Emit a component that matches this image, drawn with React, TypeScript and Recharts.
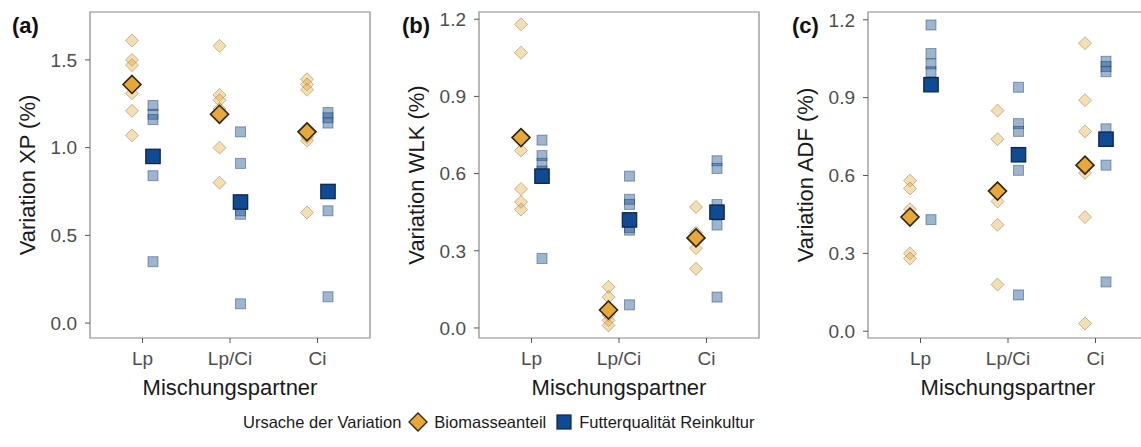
import { ScatterChart, Scatter, XAxis, YAxis, ReferenceArea } from "recharts";

const categories = ["Lp", "Lp/Ci", "Ci"];

// (a) Variation XP
const xpBiomasse = [
  [1.61, 1.5, 1.47, 1.31, 1.21, 1.07],
  [1.58, 1.3, 1.27, 1.22, 1.0, 0.8],
  [1.39, 1.36, 1.33, 1.06, 1.04, 0.63],
];
const xpFutter = [
  [1.24, 1.19, 1.16, 0.84, 0.35],
  [1.09, 0.91, 0.64, 0.62, 0.11],
  [1.2, 1.17, 1.14, 0.64, 0.15],
];
const xpBiomasseMean = [1.36, 1.19, 1.09];
const xpFutterMean = [0.95, 0.69, 0.75];

// (b) Variation WLK
const wlkBiomasse = [
  [1.18, 1.07, 0.69, 0.54, 0.49, 0.46],
  [0.16, 0.12, 0.05, 0.03, 0.01],
  [0.47, 0.37, 0.34, 0.31, 0.23],
];
const wlkFutter = [
  [0.73, 0.67, 0.64, 0.61, 0.27],
  [0.59, 0.5, 0.48, 0.39, 0.38, 0.09],
  [0.65, 0.62, 0.48, 0.4, 0.12],
];
const wlkBiomasseMean = [0.74, 0.07, 0.35];
const wlkFutterMean = [0.59, 0.42, 0.45];

// (c) Variation ADF
const adfBiomasse = [
  [0.58, 0.55, 0.47, 0.3, 0.28],
  [0.85, 0.74, 0.5, 0.41, 0.18],
  [1.11, 0.89, 0.77, 0.61, 0.44, 0.03],
];
const adfFutter = [
  [1.18, 1.07, 1.03, 1.0, 0.43],
  [0.94, 0.8, 0.77, 0.62, 0.14],
  [1.04, 1.02, 1.0, 0.78, 0.64, 0.19],
];
const adfBiomasseMean = [0.44, 0.54, 0.64];
const adfFutterMean = [0.95, 0.68, 0.74];

const DODGE = 0.12;
const FONT = "'Liberation Sans', Arial, sans-serif";

const points = (groups: number[][], shift: number) =>
  groups.flatMap((vals, i) => vals.map((y) => ({ x: i + 1 + shift, y })));
const means = (vals: number[], shift: number) =>
  vals.map((y, i) => ({ x: i + 1 + shift, y }));

const diamond = (r: number, fill: string, stroke: string, sw: number, op: number) => (p: any) => (
  <path
    d={`M${p.cx},${p.cy - r}L${p.cx + r},${p.cy}L${p.cx},${p.cy + r}L${p.cx - r},${p.cy}Z`}
    fill={fill}
    fillOpacity={op}
    stroke={stroke}
    strokeOpacity={op}
    strokeWidth={sw}
  />
);
const square = (h: number, fill: string, stroke: string, sw: number, op: number) => (p: any) => (
  <rect
    x={p.cx - h}
    y={p.cy - h}
    width={2 * h}
    height={2 * h}
    fill={fill}
    fillOpacity={op}
    stroke={stroke}
    strokeOpacity={op}
    strokeWidth={sw}
  />
);

type PanelProps = {
  left: number;
  title: string;
  domain: [number, number];
  ticks: number[];
  bio: number[][];
  fut: number[][];
  bioMean: number[];
  futMean: number[];
};

const Panel = ({ left, title, domain, ticks, bio, fut, bioMean, futMean }: PanelProps) => (
  <div style={{ position: "absolute", left, top: 0 }}>
    <ScatterChart width={380} height={400} margin={{ top: 12, right: 11, bottom: 0, left: 0 }}>
      <XAxis
        type="number"
        dataKey="x"
        domain={[0.4, 3.6]}
        ticks={[1, 2, 3]}
        tickFormatter={(v) => categories[v - 1]}
        height={62}
        axisLine={false}
        tickSize={5}
        tickMargin={9}
        tickLine={{ stroke: "#555" }}
        tick={{ fill: "#4d4d4d", fontSize: 19 }}
        label={{ value: "Mischungspartner", position: "insideBottom", offset: 5, style: { fontSize: 22, fill: "#1a1a1a" } }}
      />
      <YAxis
        type="number"
        dataKey="y"
        domain={domain}
        ticks={ticks}
        allowDataOverflow
        width={89}
        axisLine={false}
        tickSize={5}
        tickMargin={8}
        tickLine={{ stroke: "#555" }}
        tick={{ fill: "#4d4d4d", fontSize: 19 }}
        tickFormatter={(v) => v.toFixed(1)}
        label={{
          value: title,
          angle: -90,
          position: "insideLeft",
          offset: 26,
          style: { textAnchor: "middle", fontSize: 22, fill: "#1a1a1a" },
        }}
      />
      <ReferenceArea x1={0.4} x2={3.6} y1={domain[0]} y2={domain[1]} fill="none" stroke="#8a8a8a" strokeWidth={1.2} />
      <Scatter data={points(bio, -DODGE)} isAnimationActive={false} shape={diamond(6.5, "#E3A73A", "#6b5520", 1, 0.38)} />
      <Scatter data={points(fut, DODGE)} isAnimationActive={false} shape={square(5, "#174E8F", "#0d3060", 1, 0.42)} />
      <Scatter data={means(bioMean, -DODGE)} isAnimationActive={false} shape={diamond(9, "#E6A83A", "#2e2410", 1.6, 1)} />
      <Scatter data={means(futMean, DODGE)} isAnimationActive={false} shape={square(7.2, "#0F4A92", "#0a2248", 1.2, 1)} />
    </ScatterChart>
  </div>
);

const letter = (text: string, left: number) => (
  <div style={{ position: "absolute", left, top: 14, fontSize: 22, fontWeight: 700, lineHeight: "24px", color: "#111" }}>
    {text}
  </div>
);

export default function App() {
  return (
    <div
      style={{
        position: "absolute",
        left: 0,
        top: 0,
        width: 1141,
        height: 447,
        overflow: "hidden",
        background: "#fff",
        fontFamily: FONT,
      }}
    >
      <Panel
        left={1}
        title="Variation XP (%)"
        domain={[-0.085, 1.773]}
        ticks={[0, 0.5, 1.0, 1.5]}
        bio={xpBiomasse}
        fut={xpFutter}
        bioMean={xpBiomasseMean}
        futMean={xpFutterMean}
      />
      <Panel
        left={390}
        title="Variation WLK (%)"
        domain={[-0.039, 1.228]}
        ticks={[0, 0.3, 0.6, 0.9, 1.2]}
        bio={wlkBiomasse}
        fut={wlkFutter}
        bioMean={wlkBiomasseMean}
        futMean={wlkFutterMean}
      />
      <Panel
        left={779}
        title="Variation ADF (%)"
        domain={[-0.026, 1.23]}
        ticks={[0, 0.3, 0.6, 0.9, 1.2]}
        bio={adfBiomasse}
        fut={adfFutter}
        bioMean={adfBiomasseMean}
        futMean={adfFutterMean}
      />
      {letter("(a)", 12)}
      {letter("(b)", 402)}
      {letter("(c)", 792)}
      <div
        style={{
          position: "absolute",
          left: 243,
          top: 412,
          display: "flex",
          alignItems: "center",
          fontSize: 16.5,
          color: "#1a1a1a",
          whiteSpace: "nowrap",
        }}
      >
        <span style={{ marginRight: 7 }}>Ursache der Variation</span>
        <svg width={20} height={20}>
          <path d="M10,1L19,10L10,19L1,10Z" fill="#E6A83A" stroke="#2e2410" strokeWidth={1.3} />
        </svg>
        <span style={{ marginLeft: 6, marginRight: 9 }}>Biomasseanteil</span>
        <svg width={18} height={18}>
          <rect x={2} y={2} width={14} height={14} fill="#0F4A92" stroke="#0a2248" strokeWidth={1.2} />
        </svg>
        <span style={{ marginLeft: 6 }}>Futterqualität Reinkultur</span>
      </div>
    </div>
  );
}
